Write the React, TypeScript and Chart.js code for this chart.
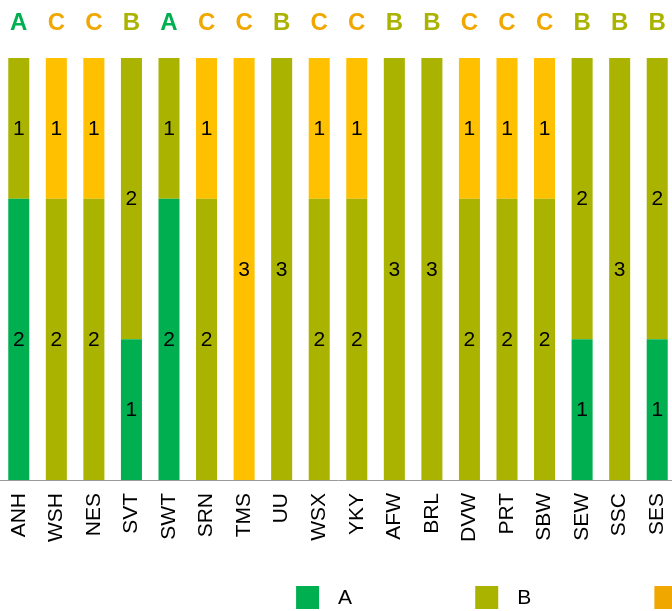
import React, { useEffect, useRef } from 'react';
import { Chart, registerables } from 'chart.js';

Chart.register(...registerables);

const categories = ['ANH', 'WSH', 'NES', 'SVT', 'SWT', 'SRN', 'TMS', 'UU', 'WSX', 'YKY', 'AFW', 'BRL', 'DVW', 'PRT', 'SBW', 'SEW', 'SSC', 'SES'];
const topLetters = ['A', 'C', 'C', 'B', 'A', 'C', 'C', 'B', 'C', 'C', 'B', 'B', 'C', 'C', 'C', 'B', 'B', 'B'];
const seriesNames = ['A', 'B', 'C'];
const seriesA = [2, 0, 0, 1, 2, 0, 0, 0, 0, 0, 0, 0, 0, 0, 0, 1, 0, 1];
const seriesB = [1, 2, 2, 2, 1, 2, 0, 3, 2, 2, 3, 3, 2, 2, 2, 2, 3, 2];
const seriesC = [0, 1, 1, 0, 0, 1, 3, 0, 1, 1, 0, 0, 1, 1, 1, 0, 0, 0];

const barColors: Record<string, string> = { A: '#00b050', B: '#aab400', C: '#ffc000' };
const letterColors: Record<string, string> = { A: '#00b050', B: '#aab400', C: '#f0a800' };
const FONT = "'Liberation Sans', Arial, sans-serif";

const segmentLabels = {
  id: 'segmentLabels',
  afterDatasetsDraw(chart: any) {
    const ctx = chart.ctx;
    ctx.save();
    ctx.font = `21px ${FONT}`;
    ctx.fillStyle = '#000';
    ctx.textAlign = 'center';
    ctx.textBaseline = 'middle';
    chart.data.datasets.forEach((ds: any, i: number) => {
      const meta = chart.getDatasetMeta(i);
      meta.data.forEach((bar: any, j: number) => {
        const v = ds.data[j];
        if (!v) return;
        const p = bar.getProps(['x', 'y', 'base'], true);
        ctx.fillText(String(v), p.x, (p.y + p.base) / 2 + 1);
      });
    });
    ctx.restore();
  },
};

const bottomLegend = {
  id: 'bottomLegend',
  afterDraw(chart: any) {
    const ctx = chart.ctx;
    const box = 23;
    const top = chart.height - 34;
    const startX = chart.width * 0.438;
    const step = chart.width * 0.265;
    ctx.save();
    ctx.font = `21px ${FONT}`;
    ctx.textAlign = 'left';
    ctx.textBaseline = 'middle';
    seriesNames.forEach((name, i) => {
      const x = startX + i * step;
      ctx.fillStyle = letterColors[name];
      ctx.fillRect(x, top, box, box);
      ctx.fillStyle = '#000';
      ctx.fillText(name, x + box + 19, top + box / 2 + 1);
    });
    ctx.restore();
  },
};

const noSidePadding = (s: any, h: number) => {
  s.height = h;
  s.paddingLeft = 0;
  s.paddingRight = 0;
};

export default function App() {
  const ref = useRef<HTMLCanvasElement>(null);
  useEffect(() => {
    if (!ref.current) return;
    Chart.defaults.font.family = FONT;
    const values = [seriesA, seriesB, seriesC];
    const chart = new Chart(ref.current, {
      type: 'bar',
      data: {
        labels: categories,
        datasets: seriesNames.map((name, i) => ({
          label: name,
          data: values[i],
          backgroundColor: barColors[name],
          borderWidth: 0,
          categoryPercentage: 0.8,
          barPercentage: 0.7,
        })),
      },
      options: {
        animation: false,
        responsive: true,
        maintainAspectRatio: false,
        layout: { padding: 0 },
        plugins: { legend: { display: false }, tooltip: { enabled: false } },
        scales: {
          x: {
            stacked: true,
            offset: true,
            grid: { display: false, drawTicks: false },
            border: { display: true, color: '#999', width: 1 },
            ticks: {
              color: '#000',
              font: { size: 21 },
              minRotation: 90,
              maxRotation: 90,
              autoSkip: false,
              padding: 13,
            },
            afterFit: (s: any) => noSidePadding(s, 140),
          },
          x2: {
            type: 'category',
            position: 'top',
            labels: topLetters,
            offset: true,
            grid: { display: false, drawTicks: false },
            border: { display: false },
            ticks: {
              color: (c: any) => letterColors[topLetters[c.index]] || '#000',
              font: { size: 24, weight: 'bold' },
              autoSkip: false,
              maxRotation: 0,
              padding: 20,
            },
            afterFit: (s: any) => noSidePadding(s, 58),
          },
          y: {
            stacked: true,
            display: false,
            min: 0,
            max: 3,
          },
        },
      },
      plugins: [segmentLabels, bottomLegend],
    });
    return () => chart.destroy();
  }, []);

  return (
    <div style={{ position: 'absolute', left: 0, top: 0, width: 672, height: 611, overflow: 'hidden' }}>
      <div style={{ position: 'relative', width: 676, height: 620 }}>
        <canvas ref={ref} />
      </div>
    </div>
  );
}
